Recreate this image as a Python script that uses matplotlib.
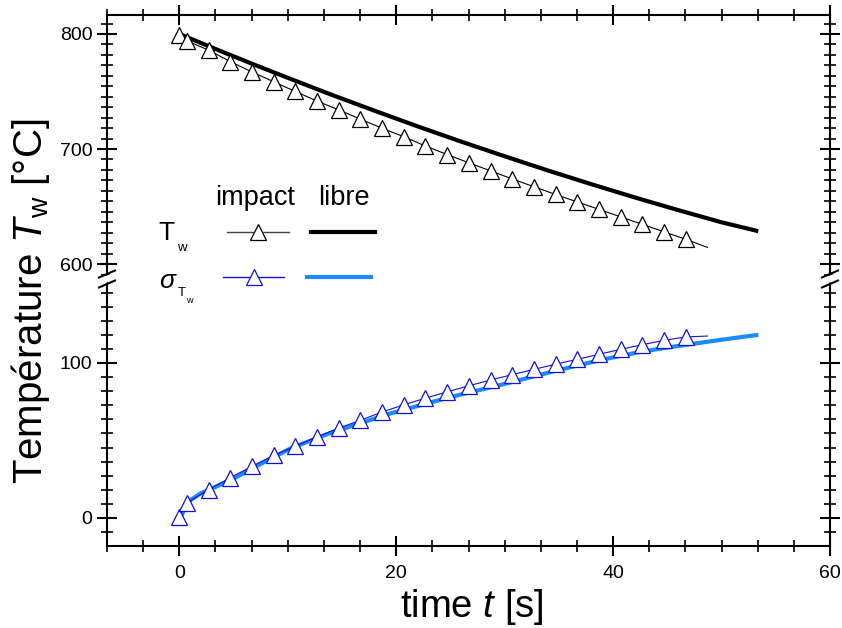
import matplotlib
matplotlib.use('Agg')
import matplotlib.pyplot as plt
from matplotlib.ticker import MultipleLocator
from matplotlib.lines import Line2D
from matplotlib.patches import Polygon

plt.rcParams['font.family'] = ['Liberation Sans', 'DejaVu Sans']
plt.rcParams['mathtext.fontset'] = 'custom'
plt.rcParams['mathtext.rm'] = 'Liberation Sans'
plt.rcParams['mathtext.it'] = 'Liberation Sans:italic'

# --- data ---
# impact : T_w (upper panel) and sigma_Tw (lower panel)
t_impact = [0, 0.7, 2.7, 4.7, 6.7, 8.7, 10.7, 12.7, 14.7, 16.7, 18.7, 20.7, 22.7,
            24.7, 26.7, 28.7, 30.7, 32.7, 34.7, 36.7, 38.7, 40.7, 42.7, 44.7, 46.7, 48.7]
Tw_impact = [799, 794, 786, 776, 767, 758.5, 750, 741.7, 734, 726, 718, 710.7, 702.6,
             695.2, 688, 681, 674, 667.2, 660.5, 654, 647.5, 641, 634.5, 628, 621.5, 614.5]
sig_impact = [0.5, 9.7, 18.3, 26, 33.3, 40.4, 46.3, 52.3, 58, 63, 68.4, 73.0, 77.3,
              81.4, 85.3, 89.0, 92.5, 95.9, 99.2, 102.4, 105.6, 108.8, 111.8, 114.6, 116.8, 117.4]

# libre : T_w
t_libre_T = [0.2, 2, 4, 7, 10, 14, 18, 22, 26, 30, 34, 38, 42, 46, 50, 53.2]
Tw_libre = [799.2, 792.2, 784.4, 773.0, 761.9, 747.3, 733.3, 719.6, 706.4, 693.7,
            681.3, 669.4, 657.9, 646.9, 636.3, 629.0]
# libre : sigma_Tw
t_libre_s = [0.1, 0.8, 2, 4.8, 7, 10.3, 14, 19.5, 25, 30, 35, 38.9, 42.6, 46, 50, 53.2]
sig_libre = [0, 10.5, 16, 24.5, 33, 45, 55, 67.5, 78, 86.5, 95.5, 102, 107.3, 111, 115, 118]

W, H = 842, 628


def fx(px):
    return px / W


def fy(py):
    return 1 - py / H


fig = plt.figure(figsize=(W / 100, H / 100), dpi=100)

left, right = 107, 830
top, brk, bottom = 15, 279, 546
ax_up = fig.add_axes([fx(left), fy(brk), fx(right) - fx(left), fy(top) - fy(brk)])
ax_lo = fig.add_axes([fx(left), fy(bottom), fx(right) - fx(left), fy(brk) - fy(bottom)])

blue = '#1010e0'
lightblue = '#1a8cff'
mk = dict(marker='^', markersize=11, markerfacecolor='white', markeredgewidth=0.9)

# upper panel: temperatures
ax_up.plot(t_libre_T, Tw_libre, color='black', lw=3, zorder=3)
ax_up.plot(t_impact, Tw_impact, color='black', lw=0.8, markeredgecolor='black',
           markevery=list(range(len(t_impact) - 1)), zorder=4, **mk)

# lower panel: sigma
ax_lo.plot(t_libre_s, sig_libre, color=lightblue, lw=3, zorder=3)
ax_lo.plot(t_impact, sig_impact, color=blue, lw=0.8, markeredgecolor=blue,
           markevery=list(range(len(t_impact) - 1)), zorder=4, **mk)

ax_up.set_ylim(587, 816.5)
ax_lo.set_ylim(-18.1, 154.2)
for ax in (ax_up, ax_lo):
    ax.set_xlim(-6.667, 60)
    ax.xaxis.set_major_locator(MultipleLocator(20))
    ax.xaxis.set_minor_locator(MultipleLocator(20 / 6))
    ax.yaxis.set_major_locator(MultipleLocator(100))
    ax.yaxis.set_minor_locator(MultipleLocator(100 / 11))
    for s in ax.spines.values():
        s.set_linewidth(1.5)
    ax.tick_params(which='major', direction='inout', length=14, width=1.5,
                   labelsize=14, right=True)
    ax.tick_params(which='minor', direction='inout', length=8.5, width=1.2, right=True)

ax_up.spines['bottom'].set_visible(False)
ax_lo.spines['top'].set_visible(False)
ax_up.tick_params(which='both', bottom=False, labelbottom=False, top=True)
ax_lo.tick_params(which='both', top=False)
ax_lo.tick_params(axis='x', which='major', pad=7)

# axis labels
fig.text(fx(472), fy(607), 'time $t$ [s]', fontsize=27.5, ha='center', va='center')
fig.text(fx(31), fy(301), 'Température $T_{\\mathrm{w}}$ [°C]', fontsize=29,
         rotation=90, ha='center', va='center')

# break marks on both vertical axes
for xb in (left, right):
    gap = Polygon([(fx(xb - 9), fy(277.5 + 1.5)), (fx(xb + 9), fy(270.5 + 1.5)),
                   (fx(xb + 9), fy(280.5 - 1.5)), (fx(xb - 9), fy(287.5 - 1.5))],
                  closed=True, facecolor='white', edgecolor='none',
                  transform=fig.transFigure, zorder=10)
    fig.add_artist(gap)
    for yc in (274, 284):
        fig.add_artist(Line2D([fx(xb - 8), fx(xb + 8)], [fy(yc + 3.5), fy(yc - 3.5)],
                              color='black', lw=1.5, transform=fig.transFigure, zorder=11))

# hand-made legend
fig.text(fx(255), fy(198), 'impact', fontsize=19.5, ha='center', va='center')
fig.text(fx(344), fy(198), 'libre', fontsize=19.5, ha='center', va='center')
fig.text(fx(166), fy(233), 'T', fontsize=19, ha='center', va='center')
fig.text(fx(182), fy(248), 'w', fontsize=9.5, ha='center', va='center')
fig.text(fx(167), fy(281), 'σ', fontsize=19, style='italic', ha='center', va='center')
fig.text(fx(182), fy(293), 'T', fontsize=9.5, ha='center', va='center')
fig.text(fx(189), fy(301), 'w', fontsize=6.5, ha='center', va='center')

fig.add_artist(Line2D([fx(227), fx(289)], [fy(232)] * 2, color='#444444', lw=1,
                      transform=fig.transFigure))
fig.add_artist(Line2D([fx(258)], [fy(232)], color='black', markeredgecolor='black',
                      transform=fig.transFigure, **mk))
fig.add_artist(Line2D([fx(311), fx(375)], [fy(232)] * 2, color='black', lw=3,
                      transform=fig.transFigure))
fig.add_artist(Line2D([fx(223), fx(284)], [fy(277)] * 2, color=blue, lw=1,
                      transform=fig.transFigure))
fig.add_artist(Line2D([fx(254)], [fy(277)], color=blue, markeredgecolor=blue,
                      transform=fig.transFigure, **mk))
fig.add_artist(Line2D([fx(307), fx(371)], [fy(277)] * 2, color=lightblue, lw=3,
                      transform=fig.transFigure))

fig.savefig('out.png', dpi=100)
